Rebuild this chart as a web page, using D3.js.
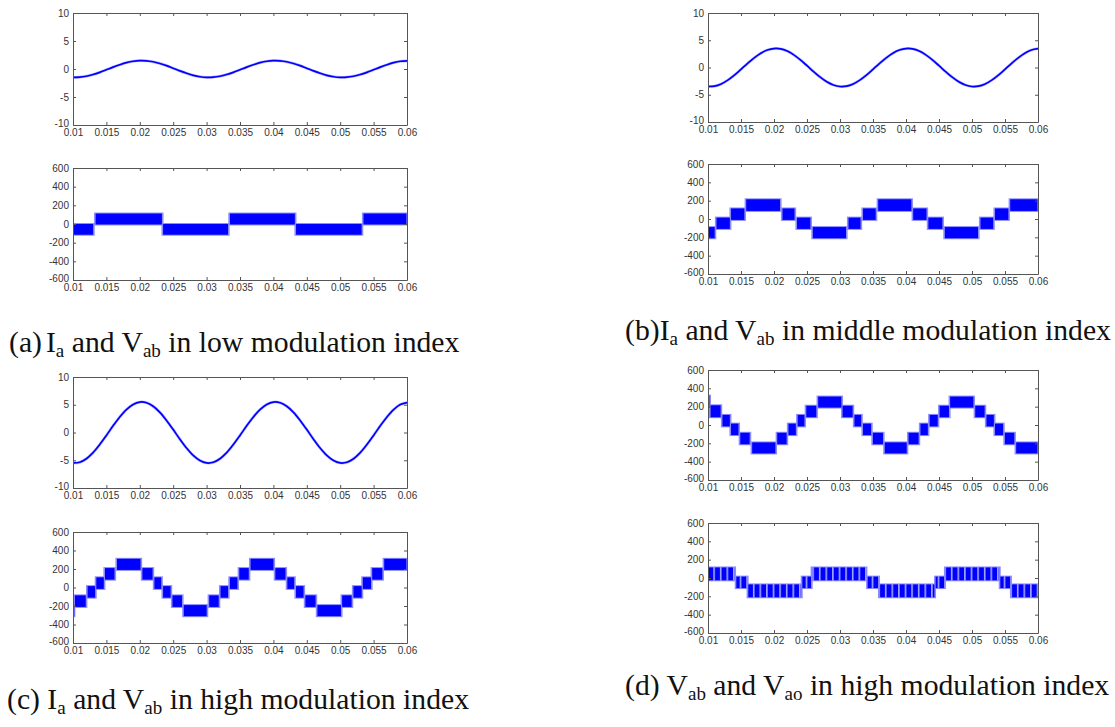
<!DOCTYPE html>
<html><head><meta charset="utf-8">
<script src="https://cdn.jsdelivr.net/npm/d3@7"></script>
<style>body{margin:0;background:#fff}svg{display:block}</style>
</head><body><svg id="c" width="1115" height="727"></svg>
<script>
// ---------------- data ----------------
const timeTicks = [0.01,0.015,0.02,0.025,0.03,0.035,0.04,0.045,0.05,0.055,0.06];
const timeTickLabels = ["0.01","0.015","0.02","0.025","0.03","0.035","0.04","0.045","0.05","0.055","0.06"];
const currentTicks = [-10,-5,0,5,10];
const currentTickLabels = ["-10","-5","0","5","10"];
const voltageTicks = [-600,-400,-200,0,200,400,600];
const voltageTickLabels = ["-600","-400","-200","0","200","400","600"];

const time = [0.010,0.011,0.012,0.013,0.014,0.015,0.016,0.017,0.018,0.019,
  0.020,0.021,0.022,0.023,0.024,0.025,0.026,0.027,0.028,0.029,
  0.030,0.031,0.032,0.033,0.034,0.035,0.036,0.037,0.038,0.039,
  0.040,0.041,0.042,0.043,0.044,0.045,0.046,0.047,0.048,0.049,
  0.050,0.051,0.052,0.053,0.054,0.055,0.056,0.057,0.058,0.059,0.060];

// Ia, low modulation index (A)
const iaLow = [-1.49,-1.46,-1.29,-0.99,-0.60,-0.14,0.33,0.76,1.13,1.38,
  1.49,1.46,1.29,0.99,0.60,0.14,-0.33,-0.76,-1.13,-1.38,
  -1.49,-1.46,-1.29,-0.99,-0.60,-0.14,0.33,0.76,1.13,1.38,
  1.49,1.46,1.29,0.99,0.60,0.14,-0.33,-0.76,-1.13,-1.38,
  -1.49,-1.46,-1.29,-0.99,-0.60,-0.14,0.33,0.76,1.13,1.38,1.45];
// Ia, middle modulation index (A)
const iaMid = [-3.49,-3.42,-3.01,-2.31,-1.39,-0.33,0.76,1.78,2.63,3.21,
  3.48,3.42,3.01,2.31,1.39,0.33,-0.76,-1.78,-2.63,-3.21,
  -3.49,-3.42,-3.01,-2.31,-1.39,-0.33,0.76,1.78,2.63,3.21,
  3.48,3.42,3.01,2.31,1.39,0.33,-0.76,-1.78,-2.63,-3.21,
  -3.49,-3.42,-3.01,-2.31,-1.39,-0.33,0.76,1.78,2.63,3.21,3.45];
// Ia, high modulation index (A)
const iaHigh = [-5.48,-5.37,-4.73,-3.64,-2.18,-0.52,1.20,2.80,4.13,5.05,
  5.48,5.37,4.73,3.64,2.18,0.52,-1.20,-2.80,-4.13,-5.05,
  -5.48,-5.37,-4.73,-3.64,-2.18,-0.52,1.20,2.80,4.13,5.05,
  5.48,5.37,4.73,3.64,2.18,0.52,-1.20,-2.80,-4.13,-5.05,
  -5.48,-5.37,-4.73,-3.64,-2.18,-0.52,1.20,2.80,4.13,5.05,5.40];

// stepped PWM voltages: [t start, t end, band low (V), band high (V)]
const vabLow = [
  [0.0100,0.0131,-115,0],[0.0133,0.0234,-5,112],[0.0234,0.0333,-115,0],
  [0.0334,0.0433,-5,112],[0.0433,0.0533,-115,0],[0.0534,0.0600,-5,112]];
const vabMid = [
  [0.0100,0.0111,-210,-88],[0.0112,0.0134,-108,15],[0.0134,0.0156,-10,115],
  [0.0157,0.0210,88,215],[0.0212,0.0232,-10,115],[0.0234,0.0256,-108,15],
  [0.0258,0.0310,-210,-88],[0.0312,0.0332,-108,15],[0.0334,0.0355,-10,115],
  [0.0357,0.0409,88,215],[0.0410,0.0432,-10,115],[0.0433,0.0456,-108,15],
  [0.0458,0.0510,-210,-88],[0.0512,0.0533,-108,15],[0.0534,0.0556,-10,115],
  [0.0557,0.0600,88,215]];
const vabHigh = [
  [0.0100,0.0102,-310,-190],[0.0102,0.0120,-210,-85],[0.0121,0.0134,-110,15],
  [0.0134,0.0147,-15,110],[0.0147,0.0163,85,210],[0.0165,0.0202,190,310],
  [0.0203,0.0220,85,210],[0.0221,0.0233,-15,110],[0.0234,0.0247,-110,15],
  [0.0248,0.0264,-210,-85],[0.0265,0.0301,-310,-190],[0.0303,0.0319,-210,-85],
  [0.0320,0.0333,-110,15],[0.0334,0.0347,-15,110],[0.0348,0.0364,85,210],
  [0.0365,0.0401,190,310],[0.0402,0.0419,85,210],[0.0420,0.0432,-15,110],
  [0.0433,0.0446,-110,15],[0.0447,0.0464,-210,-85],[0.0465,0.0502,-310,-190],
  [0.0502,0.0518,-210,-85],[0.0519,0.0533,-110,15],[0.0533,0.0547,-15,110],
  [0.0547,0.0564,85,210],[0.0565,0.0600,190,310]];
const vabHighD = [
  [0.0100,0.0103,190,320],[0.0103,0.0120,85,215],[0.0121,0.0134,-15,110],
  [0.0134,0.0147,-110,15],[0.0148,0.0164,-210,-85],[0.0166,0.0203,-310,-190],
  [0.0204,0.0220,-210,-85],[0.0221,0.0234,-110,15],[0.0235,0.0247,-15,110],
  [0.0248,0.0265,85,210],[0.0266,0.0303,190,310],[0.0303,0.0320,85,210],
  [0.0321,0.0333,-15,110],[0.0334,0.0348,-110,15],[0.0349,0.0366,-210,-85],
  [0.0367,0.0402,-310,-190],[0.0403,0.0420,-210,-85],[0.0421,0.0434,-110,15],
  [0.0435,0.0449,-15,110],[0.0450,0.0466,85,210],[0.0466,0.0503,190,310],
  [0.0504,0.0520,85,210],[0.0521,0.0534,-15,110],[0.0534,0.0548,-110,15],
  [0.0549,0.0565,-210,-85],[0.0566,0.0600,-310,-190]];
const vaoHigh = [
  [0.0100,0.0141,-25,115],[0.0142,0.0160,-110,15],[0.0160,0.0242,-210,-70],
  [0.0242,0.0257,-110,15],[0.0257,0.0340,-25,115],[0.0341,0.0359,-110,15],
  [0.0359,0.0444,-210,-70],[0.0444,0.0459,-110,15],[0.0459,0.0542,-25,115],
  [0.0542,0.0559,-110,15],[0.0559,0.0600,-210,-70]];

// ---------------- drawing ----------------
const svg = d3.select('#c');
const BLUE = '#0000ff', LIGHT = '#8c8cff';
const defs = svg.append('defs');

const panels = [
  {l:73, r:407, t:13,  b:125, kind:'line', dom:[-10,10],  yt:currentTicks, yl:currentTickLabels, data:iaLow},
  {l:73, r:407, t:168, b:280, kind:'step', dom:[-600,600], yt:voltageTicks, yl:voltageTickLabels, data:vabLow},
  {l:708,r:1038,t:13,  b:122, kind:'line', dom:[-10,10],  yt:currentTicks, yl:currentTickLabels, data:iaMid},
  {l:708,r:1038,t:164, b:274, kind:'step', dom:[-600,600], yt:voltageTicks, yl:voltageTickLabels, data:vabMid},
  {l:73, r:407, t:377, b:488, kind:'line', dom:[-10,10],  yt:currentTicks, yl:currentTickLabels, data:iaHigh},
  {l:73, r:407, t:532, b:643, kind:'step', dom:[-600,600], yt:voltageTicks, yl:voltageTickLabels, data:vabHigh},
  {l:708,r:1038,t:370, b:480, kind:'step', dom:[-600,600], yt:voltageTicks, yl:voltageTickLabels, data:vabHighD},
  {l:708,r:1038,t:523, b:633, kind:'step', dom:[-600,600], yt:voltageTicks, yl:voltageTickLabels, data:vaoHigh, stripes:true}
];

panels.forEach((p, i) => {
  const x = d3.scaleLinear().domain([0.01,0.06]).range([p.l, p.r]);
  const y = d3.scaleLinear().domain(p.dom).range([p.b, p.t]);
  const cid = 'clip' + i;
  defs.append('clipPath').attr('id', cid).append('rect')
    .attr('x', p.l).attr('y', p.t).attr('width', p.r - p.l).attr('height', p.b - p.t);
  const g = svg.append('g');
  const plot = g.append('g').attr('clip-path', `url(#${cid})`);

  if (p.kind === 'line') {
    const line = d3.line().x((d, k) => x(time[k])).y(d => y(d)).curve(d3.curveCatmullRom);
    plot.append('path').attr('d', line(p.data)).attr('fill', 'none')
      .attr('stroke', LIGHT).attr('stroke-width', 2.8).attr('stroke-opacity', 0.6);
    plot.append('path').attr('d', line(p.data)).attr('fill', 'none')
      .attr('stroke', BLUE).attr('stroke-width', 1.7);
  } else {
    let fill = BLUE;
    if (p.stripes) {
      const w = x(0.011) - x(0.010);
      const pat = defs.append('pattern').attr('id', 'pwm' + i)
        .attr('patternUnits', 'userSpaceOnUse').attr('x', p.l + w * 0.8).attr('y', 0)
        .attr('width', w).attr('height', 727);
      pat.append('rect').attr('width', w).attr('height', 727).attr('fill', BLUE);
      pat.append('rect').attr('width', 1.6).attr('height', 727).attr('fill', '#a8a8ff');
      fill = `url(#pwm${i})`;
    }
    // light switching fringes
    plot.selectAll('rect.fr').data(p.data).join('rect').attr('class', 'fr')
      .attr('x', d => x(d[0]) - 1).attr('width', d => x(d[1]) - x(d[0]) + 2)
      .attr('y', d => y(d[3]) - 1).attr('height', d => y(d[2]) - y(d[3]) + 2)
      .attr('fill', LIGHT);
    plot.selectAll('rect.blk').data(p.data).join('rect').attr('class', 'blk')
      .attr('x', d => x(d[0]) + 0.6).attr('width', d => Math.max(0.6, x(d[1]) - x(d[0]) - 1.2))
      .attr('y', d => y(d[3])).attr('height', d => y(d[2]) - y(d[3]))
      .attr('fill', fill);
  }

  // axes (MATLAB style, inward ticks on all sides)
  const fmtX = d => timeTickLabels[timeTicks.indexOf(d)];
  const fmtY = d => p.yl[p.yt.indexOf(d)];
  const axB = g.append('g').attr('transform', `translate(0,${p.b})`)
    .call(d3.axisBottom(x).tickValues(timeTicks).tickFormat(fmtX).tickSizeInner(-3).tickSizeOuter(0).tickPadding(4));
  const axT = g.append('g').attr('transform', `translate(0,${p.t})`)
    .call(d3.axisTop(x).tickValues(timeTicks).tickFormat('').tickSizeInner(-3).tickSizeOuter(0));
  const axL = g.append('g').attr('transform', `translate(${p.l},0)`)
    .call(d3.axisLeft(y).tickValues(p.yt).tickFormat(fmtY).tickSizeInner(-3).tickSizeOuter(0).tickPadding(4));
  const axR = g.append('g').attr('transform', `translate(${p.r},0)`)
    .call(d3.axisRight(y).tickValues(p.yt).tickFormat('').tickSizeInner(-3).tickSizeOuter(0));
  [axB, axT, axL, axR].forEach(a => {
    a.selectAll('path.domain').attr('stroke', '#555').attr('stroke-width', 1);
    a.selectAll('line').attr('stroke', '#555');
    a.selectAll('text').attr('fill', '#333').style('font-family', '"Liberation Sans", Arial, sans-serif').style('font-size', '10px');
  });
  // lowest y label sits slightly above the x labels, as in the original
  axL.selectAll('.tick').filter(d => d === p.dom[0]).select('text').attr('dy', '0.1em');
});

// ---------------- captions ----------------
function caption(x0, y0, parts) {
  const t = svg.append('text').attr('x', x0).attr('y', y0)
    .style('font-family', '"Liberation Serif", "Times New Roman", serif').style('font-size', '29.7px').attr('fill', '#111');
  let prevSub = false;
  parts.forEach(([s, sub, dx]) => {
    const ts = t.append('tspan').text(s);
    if (dx) ts.attr('dx', dx);
    if (sub) ts.style('font-size', '19px');
    ts.attr('dy', sub && !prevSub ? 5 : (!sub && prevSub ? -5 : 0));
    prevSub = !!sub;
  });
}
caption(9, 352, [["(a)"],["I",false,4],["a",true],[" and V"],["ab",true],[" in low modulation index"]]);
caption(625, 340, [["(b)"],["I"],["a",true],[" and V"],["ab",true],[" in middle modulation index"]]);
caption(7, 709, [["(c) I"],["a",true],[" and V"],["ab",true],[" in high modulation index"]]);
caption(625, 695, [["(d) V"],["ab",true],[" and V"],["ao",true],[" in high modulation index"]]);
</script>
</body></html>
